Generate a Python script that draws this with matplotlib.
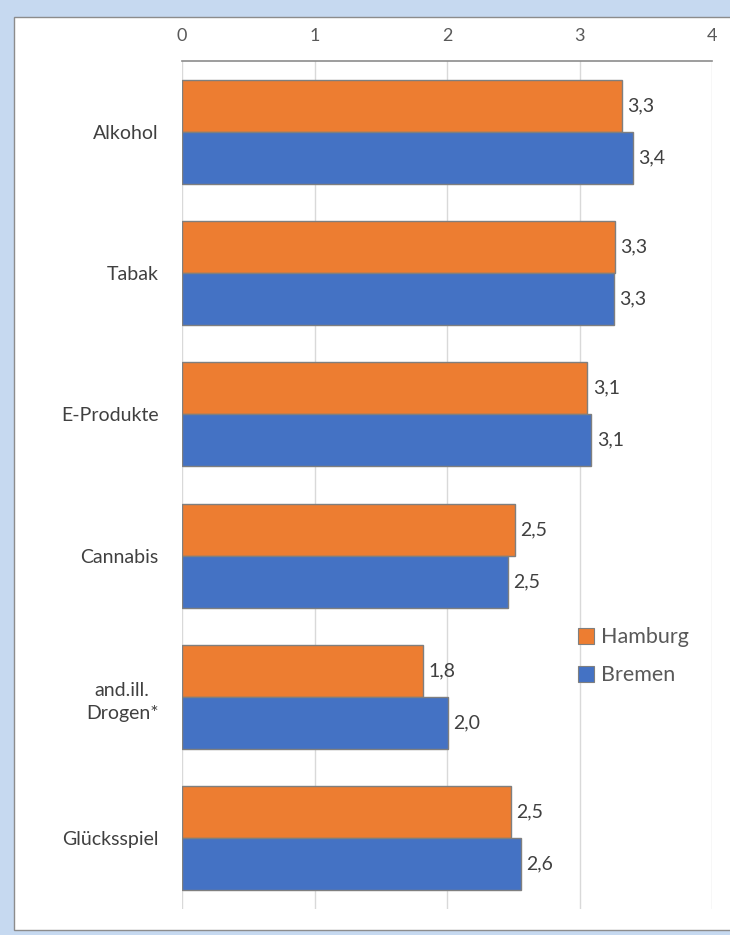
import matplotlib
matplotlib.use("Agg")
import matplotlib.pyplot as plt
from matplotlib.patches import Rectangle
from matplotlib.lines import Line2D

categories = ["Alkohol", "Tabak", "E-Produkte", "Cannabis", "and.ill.\nDrogen*", "Glücksspiel"]
hamburg = [3.32, 3.27, 3.06, 2.51, 1.82, 2.48]
bremen = [3.40, 3.26, 3.09, 2.46, 2.01, 2.56]
series_names = ["Hamburg", "Bremen"]
xticks = [0, 1, 2, 3, 4]

ORANGE = "#ED7D31"
BLUE = "#4472C4"
FONT = ["Lato", "DejaVu Sans"]
plt.rcParams["font.family"] = FONT

W, H = 730, 935
fig = plt.figure(figsize=(W / 100, H / 100), dpi=100)
fig.patch.set_facecolor("#C6D9F0")
# white panel
fig.patches.append(Rectangle((14 / W, 1 - 930 / H), (760 - 14) / W, (930 - 17) / H,
                             transform=fig.transFigure, facecolor="white",
                             edgecolor="#8c8c8c", linewidth=1.0, zorder=-5))

ax = fig.add_axes([182 / W, 1 - 909 / H, 530 / W, 848 / H])
ax.set_zorder(5)
ax.set_facecolor("none")

n = len(categories)
bh = 0.368
ys = list(range(n))
ax.barh([y - bh / 2 for y in ys], hamburg, height=bh, color=ORANGE,
        edgecolor="#7f7f7f", linewidth=1.0, zorder=3, label=series_names[0])
ax.barh([y + bh / 2 for y in ys], bremen, height=bh, color=BLUE,
        edgecolor="#7f7f7f", linewidth=1.0, zorder=3, label=series_names[1])

for y, v in zip(ys, hamburg):
    ax.text(v + 0.04, y - bh / 2, f"{v:.1f}".replace(".", ","), va="center", ha="left",
            fontsize=14, color="#404040")
for y, v in zip(ys, bremen):
    ax.text(v + 0.04, y + bh / 2, f"{v:.1f}".replace(".", ","), va="center", ha="left",
            fontsize=14, color="#404040")

ax.set_xlim(0, 4)
ax.set_ylim(n - 0.5, -0.5)
ax.set_xticks(xticks)
ax.set_xticklabels([str(t) for t in xticks])
ax.xaxis.tick_top()
ax.tick_params(axis="x", length=0, pad=12, labelsize=13, labelcolor="#595959")
ax.set_yticks(ys)
ax.set_yticklabels(categories, multialignment="center", linespacing=1.5)
ax.tick_params(axis="y", length=0, pad=17, labelsize=14, labelcolor="#404040")
ax.grid(axis="x", color="#d9d9d9", linewidth=1.0, zorder=0)
for s in ["bottom", "left", "right"]:
    ax.spines[s].set_visible(False)
ax.spines["top"].set_color("#8c8c8c")
ax.spines["top"].set_linewidth(1.2)

handles = [Line2D([], [], marker="s", linestyle="none", markersize=11,
                  markerfacecolor=c, markeredgecolor="#7f7f7f", markeredgewidth=0.8)
           for c in (ORANGE, BLUE)]
leg = ax.legend(handles, series_names, loc="center left",
                bbox_to_anchor=(0.705, 0.298), frameon=False, fontsize=15.5,
                handletextpad=0.2, labelspacing=0.85, handlelength=1.0)
for t in leg.get_texts():
    t.set_color("#595959")

fig.savefig("out.png", dpi=100, facecolor=fig.get_facecolor())
